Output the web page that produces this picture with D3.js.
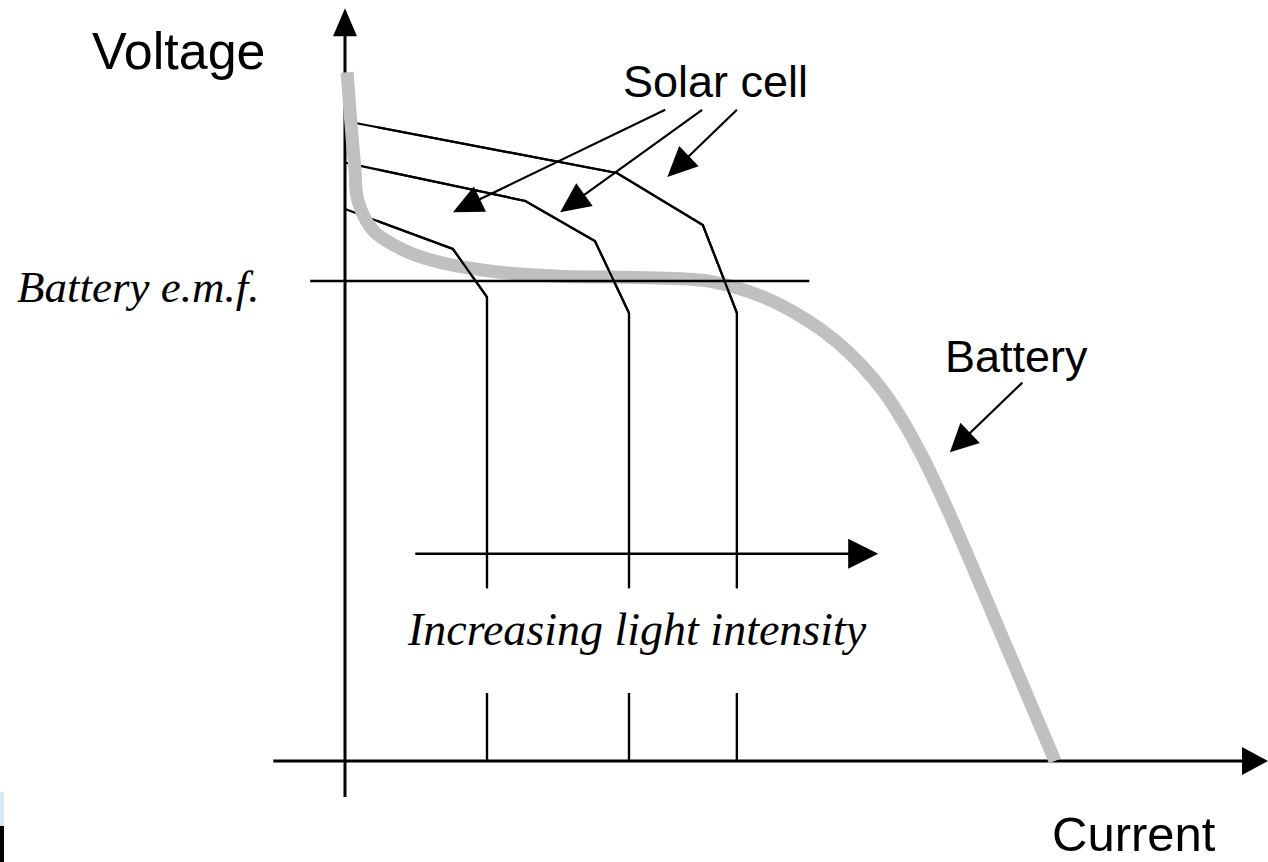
<!DOCTYPE html>
<html>
<head>
<meta charset="utf-8">
<script src="https://cdn.jsdelivr.net/npm/d3@7"></script>
<style>
  body { margin: 0; background: #fff; }
  svg { display: block; }
</style>
</head>
<body>
<div id="chart"></div>
<script>
// values, in arbitrary current / voltage units
const batteryCurrent = [0.03, 0.08, 0.14, 0.18, 0.39, 0.82, 1.30, 1.76, 2.18, 3.03, 4.30, 5.18, 5.89, 6.51, 6.90, 7.28, 7.61, 7.89, 8.17, 8.52, 9.23, 10.0];
const batteryVoltage = [8.61, 8.01, 7.39, 7.01, 6.64, 6.39, 6.24, 6.16, 6.11, 6.06, 6.04, 5.99, 5.80, 5.51, 5.26, 4.94, 4.59, 4.20, 3.74, 3.08, 1.61, 0.0];

// three solar cell curves (low, mid, high light); null = break for the label
const solarLowCurrent  = [0, 1.52, 2.0, 2.0, 2.0, 2.0, 2.0];
const solarLowVoltage  = [6.9, 6.4, 5.8, 2.16, null, 0.85, 0];
const solarMidCurrent  = [0, 2.54, 3.52, 4.0, 4.0, 4.0, 4.0, 4.0];
const solarMidVoltage  = [7.48, 7.0, 6.5, 5.6, 2.16, null, 0.85, 0];
const solarHighCurrent = [0, 3.83, 5.04, 5.52, 5.52, 5.52, 5.52, 5.52];
const solarHighVoltage = [8.0, 7.35, 6.7, 5.6, 2.16, null, 0.85, 0];

const batteryEmf = 6.0;

const w = 1268;
const h = 862;

const xScale = d3.scaleLinear().domain([0, 10]).range([345, 1055]);
const yScale = d3.scaleLinear().domain([0, 10]).range([761, -39]);

const svg = d3.select("#chart").append("svg")
              .attr("width", w).attr("height", h);

const toPoints = (cs, vs) => cs.map((c, i) => [c, vs[i]]);

const solarLine = d3.line()
    .defined(d => d[1] !== null)
    .x(d => xScale(d[0]))
    .y(d => yScale(d[1]));

const batteryLine = d3.line()
    .curve(d3.curveCatmullRom.alpha(0.5))
    .x(d => xScale(d[0]))
    .y(d => yScale(d[1]));

// line with a filled triangular head, all in data units
function arrow(g, c1, v1, c2, v2, len, half, width) {
  const x1 = xScale(c1), y1 = yScale(v1), x2 = xScale(c2), y2 = yScale(v2);
  const dx = x2 - x1, dy = y2 - y1, d = Math.hypot(dx, dy);
  const ux = dx / d, uy = dy / d;
  const bx = x2 - ux * len, by = y2 - uy * len;
  g.append("line")
   .attr("x1", x1).attr("y1", y1)
   .attr("x2", bx + ux * 2).attr("y2", by + uy * 2)
   .attr("stroke", "#000").attr("stroke-width", width);
  g.append("path")
   .attr("d", "M" + x2 + "," + y2 +
              "L" + (bx - uy * half) + "," + (by + ux * half) +
              "L" + (bx + uy * half) + "," + (by - ux * half) + "Z")
   .attr("fill", "#000");
}

const curves = [
  toPoints(solarLowCurrent, solarLowVoltage),
  toPoints(solarMidCurrent, solarMidVoltage),
  toPoints(solarHighCurrent, solarHighVoltage)
];

// axes
const axes = svg.append("g");
arrow(axes, 0, -0.45, 0, 9.41, 28, 12, 3);      // voltage axis
arrow(axes, -1.01, 0, 13.0, 0, 26, 14, 3);      // current axis

// solar curves under the battery curve (hidden near the voltage axis)
svg.append("g").selectAll("path").data(curves).enter().append("path")
   .attr("d", solarLine)
   .attr("fill", "none")
   .attr("stroke", "#000")
   .attr("stroke-width", 2.2);

// battery curve
svg.append("path")
   .datum(toPoints(batteryCurrent, batteryVoltage))
   .attr("d", batteryLine)
   .attr("fill", "none")
   .attr("stroke", "#c0c0c0")
   .attr("stroke-width", 13);

// battery e.m.f. line
svg.append("line")
   .attr("x1", xScale(-0.49)).attr("x2", xScale(6.54))
   .attr("y1", yScale(batteryEmf)).attr("y2", yScale(batteryEmf))
   .attr("stroke", "#000").attr("stroke-width", 2.6);

// solar curves again on top, away from the axis
svg.append("clipPath").attr("id", "right-part")
   .append("rect").attr("x", 378).attr("y", 0).attr("width", w).attr("height", h);
svg.append("g").attr("clip-path", "url(#right-part)")
   .selectAll("path").data(curves).enter().append("path")
   .attr("d", solarLine)
   .attr("fill", "none")
   .attr("stroke", "#000")
   .attr("stroke-width", 2.2);

// annotation arrows
const notes = svg.append("g");
arrow(notes, 4.51, 8.14, 1.52, 6.86, 30, 14, 2.2);
arrow(notes, 5.03, 8.14, 3.03, 6.86, 30, 14, 2.2);
arrow(notes, 5.52, 8.14, 4.54, 7.30, 30, 14, 2.2);
arrow(notes, 9.54, 4.73, 8.52, 3.86, 28, 14, 2.2);
arrow(notes, 0.99, 2.59, 7.51, 2.59, 30, 15, 2.6);   // increasing light intensity

// labels
const sans = "'Liberation Sans', Arial, sans-serif";
const serif = "'Liberation Serif', 'Times New Roman', serif";

svg.append("text").attr("x", 92).attr("y", 69)
   .style("font-family", sans).style("font-size", "52px").text("Voltage");
svg.append("text").attr("x", 623).attr("y", 97)
   .style("font-family", sans).style("font-size", "45px").text("Solar cell");
svg.append("text").attr("x", 945).attr("y", 372)
   .style("font-family", sans).style("font-size", "45px").text("Battery");
svg.append("text").attr("x", 1052).attr("y", 851)
   .style("font-family", sans).style("font-size", "49px").text("Current");
svg.append("text").attr("x", 17).attr("y", 302)
   .style("font-family", serif).style("font-style", "italic").style("font-size", "45px")
   .text("Battery e.m.f.");
svg.append("text").attr("x", 408).attr("y", 645)
   .style("font-family", serif).style("font-style", "italic").style("font-size", "46px")
   .text("Increasing light intensity");

// small scan artefact at the bottom left edge
svg.append("rect").attr("x", 0).attr("y", 792).attr("width", 4).attr("height", 34).attr("fill", "#d5e9f5");
svg.append("rect").attr("x", 0).attr("y", 826).attr("width", 4).attr("height", 36).attr("fill", "#000");
</script>
</body>
</html>
